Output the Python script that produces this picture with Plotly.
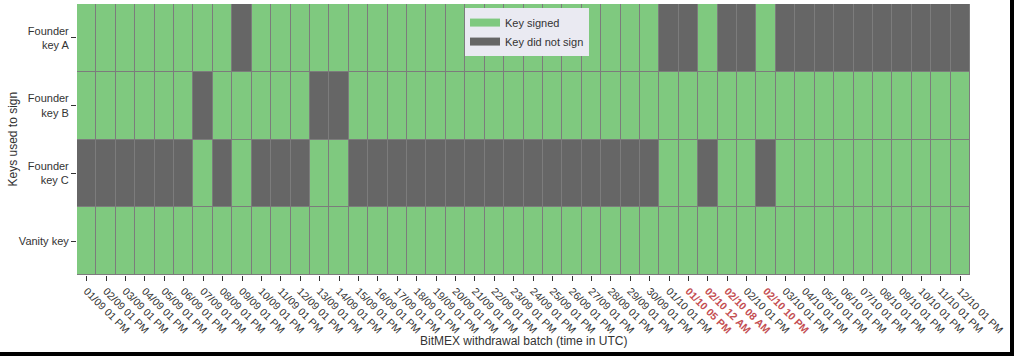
import plotly.graph_objects as go

batches = [
    "01/09 01 PM", "02/09 01 PM", "03/09 01 PM", "04/09 01 PM", "05/09 01 PM",
    "06/09 01 PM", "07/09 01 PM", "08/09 01 PM", "09/09 01 PM", "10/09 01 PM",
    "11/09 01 PM", "12/09 01 PM", "13/09 01 PM", "14/09 01 PM", "15/09 01 PM",
    "16/09 01 PM", "17/09 01 PM", "18/09 01 PM", "19/09 01 PM", "20/09 01 PM",
    "21/09 01 PM", "22/09 01 PM", "23/09 01 PM", "24/09 01 PM", "25/09 01 PM",
    "26/09 01 PM", "27/09 01 PM", "28/09 01 PM", "29/09 01 PM", "30/09 01 PM",
    "01/10 01 PM", "01/10 05 PM", "02/10 12 AM", "02/10 08 AM", "02/10 01 PM",
    "02/10 10 PM", "03/10 01 PM", "04/10 01 PM", "05/10 01 PM", "06/10 01 PM",
    "07/10 01 PM", "08/10 01 PM", "09/10 01 PM", "10/10 01 PM", "11/10 01 PM",
    "12/10 01 PM",
]
highlighted = ["01/10 05 PM", "02/10 12 AM", "02/10 08 AM", "02/10 10 PM"]

keys = ["Founder<br>key A", "Founder<br>key B", "Founder<br>key C", "Vanity key"]

# 1 = key signed, 0 = key did not sign
key_a = [1, 1, 1, 1, 1, 1, 1, 1, 0, 1,
         1, 1, 1, 1, 1, 1, 1, 1, 1, 1,
         1, 1, 1, 1, 1, 1, 1, 1, 1, 1,
         0, 0, 1, 0, 0, 1, 0, 0, 0, 0,
         0, 0, 0, 0, 0, 0]
key_b = [1, 1, 1, 1, 1, 1, 0, 1, 1, 1,
         1, 1, 0, 0, 1, 1, 1, 1, 1, 1,
         1, 1, 1, 1, 1, 1, 1, 1, 1, 1,
         1, 1, 1, 1, 1, 1, 1, 1, 1, 1,
         1, 1, 1, 1, 1, 1]
key_c = [0, 0, 0, 0, 0, 0, 1, 0, 1, 0,
         0, 0, 1, 1, 0, 0, 0, 0, 0, 0,
         0, 0, 0, 0, 0, 0, 0, 0, 0, 0,
         1, 1, 0, 1, 1, 0, 1, 1, 1, 1,
         1, 1, 1, 1, 1, 1]
vanity = [1, 1, 1, 1, 1, 1, 1, 1, 1, 1,
          1, 1, 1, 1, 1, 1, 1, 1, 1, 1,
          1, 1, 1, 1, 1, 1, 1, 1, 1, 1,
          1, 1, 1, 1, 1, 1, 1, 1, 1, 1,
          1, 1, 1, 1, 1, 1]

GREEN = "#7fc97f"
DARK = "#666666"
RED = "#c44e52"
TXT = "#333333"

z = [key_a, key_b, key_c, vanity]

fig = go.Figure()
fig.add_trace(go.Heatmap(
    z=z, x=batches, y=keys,
    colorscale=[[0, DARK], [0.5, DARK], [0.5, GREEN], [1, GREEN]],
    zmin=0, zmax=1, showscale=False, xgap=1, ygap=1,
    hoverinfo="skip",
))
fig.add_trace(go.Scatter(x=[None], y=[None], mode="lines", name="Key signed",
                         line=dict(color=GREEN, width=8), showlegend=True))
fig.add_trace(go.Scatter(x=[None], y=[None], mode="lines", name="Key did not sign",
                         line=dict(color=DARK, width=8), showlegend=True))

ticktext = [f"<b><span style='color:{RED}'>{b}</span></b>" if b in highlighted else b
            for b in batches]

ML, MR, MT, MB = 77, 44, 4, 81
W, H = 1014, 356

fig.update_layout(
    width=W, height=H,
    margin=dict(l=ML, r=MR, t=MT, b=MB),
    paper_bgcolor="white", plot_bgcolor="#7c7c7c",
    font=dict(family="Liberation Sans, Arial, sans-serif", size=11, color=TXT),
    legend=dict(x=0.4345, y=0.985, xanchor="left", yanchor="top",
                bgcolor="#eaeaf2", borderwidth=0, font=dict(size=11, color=TXT),
                tracegroupgap=0, itemwidth=30),
    showlegend=True,
)
fig.update_xaxes(
    type="category", tickmode="array", tickvals=batches, ticktext=ticktext,
    tickangle=45, ticks="outside", ticklen=5, tickcolor=TXT, tickwidth=1,
    showgrid=False, zeroline=False, showline=False,
    tickfont=dict(size=10.5, color=TXT),
)
fig.update_yaxes(
    type="category", autorange="reversed", ticks="outside", ticklen=5, tickcolor=TXT,
    showgrid=False, zeroline=False, showline=False,
    tickfont=dict(size=11, color=TXT),
)

# pixel -> paper helpers (for the axis titles and the black frame of the picture)
pw = W - ML - MR
ph = H - MT - MB
bottom_px = H - MB


def px_x(p):
    return (p - ML) / pw


def px_y(p):
    return (bottom_px - p) / ph


fig.add_annotation(text="BitMEX withdrawal batch (time in UTC)", xref="paper", yref="paper",
                   x=0.5, y=px_y(341), xanchor="center", yanchor="middle",
                   showarrow=False, font=dict(size=12, color=TXT))
fig.add_annotation(text="Keys used to sign", xref="paper", yref="paper",
                   x=px_x(12), y=0.5, xanchor="center", yanchor="middle", textangle=-90,
                   showarrow=False, font=dict(size=12, color=TXT))

fig.add_shape(type="rect", xref="paper", yref="paper",
              x0=px_x(1010), x1=px_x(W + 10), y0=px_y(H + 10), y1=px_y(-10),
              fillcolor="black", line=dict(width=0), layer="above")
fig.add_shape(type="rect", xref="paper", yref="paper",
              x0=px_x(-10), x1=px_x(W + 10), y0=px_y(H + 10), y1=px_y(352),
              fillcolor="black", line=dict(width=0), layer="above")

fig.write_html("out.html", config={"displayModeBar": False},
               post_script="document.body.style.margin='0';")
